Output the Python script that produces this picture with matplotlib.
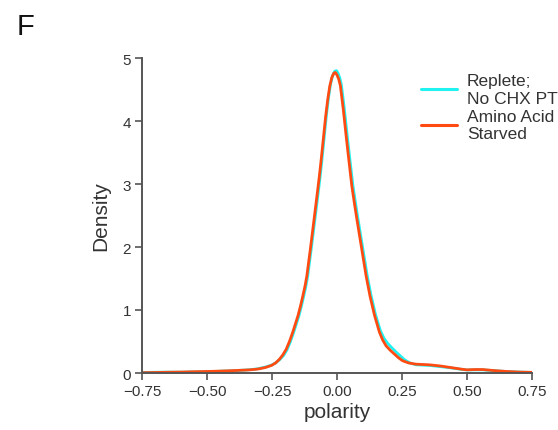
import matplotlib
matplotlib.use("Agg")
import matplotlib.pyplot as plt

# ---- data ----
starved_x = [-0.75, -0.70, -0.65, -0.60, -0.55, -0.50, -0.45, -0.40, -0.36, -0.336, -0.31,
             -0.297, -0.275, -0.252, -0.236, -0.221, -0.208, -0.195, -0.182, -0.170, -0.160,
             -0.150, -0.140, -0.131, -0.123, -0.116, -0.103, -0.090, -0.078, -0.068, -0.060,
             -0.052, -0.044, -0.036, -0.028, -0.020, -0.012, -0.006, 0.000, 0.007, 0.013,
             0.024, 0.035, 0.045, 0.057, 0.066, 0.075, 0.086, 0.099, 0.112, 0.127, 0.144,
             0.163, 0.176, 0.189, 0.205, 0.221, 0.237, 0.252, 0.275, 0.304, 0.355, 0.40,
             0.44, 0.48, 0.50, 0.53, 0.56, 0.60, 0.65, 0.70, 0.75]
starved_y = [0.005, 0.008, 0.012, 0.015, 0.020, 0.024, 0.030, 0.038, 0.045, 0.050, 0.060,
             0.068, 0.088, 0.12, 0.16, 0.22, 0.29, 0.38, 0.51, 0.65, 0.78,
             0.91, 1.07, 1.23, 1.38, 1.54, 1.95, 2.38, 2.78, 3.12, 3.42,
             3.74, 4.06, 4.33, 4.55, 4.69, 4.76, 4.77, 4.73, 4.66, 4.56,
             4.19, 3.77, 3.40, 2.97, 2.72, 2.48, 2.20, 1.87, 1.54, 1.22, 0.92,
             0.65, 0.52, 0.43, 0.36, 0.30, 0.24, 0.195, 0.16, 0.14, 0.13, 0.11,
             0.085, 0.06, 0.05, 0.055, 0.055, 0.04, 0.025, 0.015, 0.01]

replete_x = [-0.75, -0.70, -0.65, -0.60, -0.55, -0.50, -0.45, -0.40, -0.36, -0.336, -0.31,
             -0.297, -0.275, -0.252, -0.236, -0.221, -0.205, -0.192, -0.179, -0.167, -0.157,
             -0.147, -0.137, -0.128, -0.120, -0.113, -0.100, -0.087, -0.075, -0.065, -0.057,
             -0.049, -0.041, -0.033, -0.025, -0.017, -0.009, -0.002, 0.004, 0.011, 0.017,
             0.028, 0.039, 0.049, 0.061, 0.070, 0.079, 0.090, 0.103, 0.116, 0.131, 0.148,
             0.167, 0.181, 0.195, 0.211, 0.228, 0.244, 0.260, 0.280, 0.304, 0.355, 0.40,
             0.44, 0.48, 0.50, 0.53, 0.56, 0.60, 0.65, 0.70, 0.75]
replete_y = [0.008, 0.012, 0.014, 0.013, 0.017, 0.022, 0.028, 0.036, 0.045, 0.052, 0.064,
             0.074, 0.095, 0.125, 0.16, 0.21, 0.28, 0.37, 0.50, 0.64, 0.77,
             0.90, 1.06, 1.22, 1.37, 1.53, 1.94, 2.37, 2.77, 3.11, 3.42,
             3.75, 4.08, 4.36, 4.58, 4.72, 4.79, 4.80, 4.76, 4.68, 4.57,
             4.20, 3.78, 3.41, 2.98, 2.73, 2.49, 2.21, 1.88, 1.55, 1.23, 0.93,
             0.67, 0.55, 0.47, 0.40, 0.33, 0.27, 0.21, 0.16, 0.13, 0.12, 0.10,
             0.08, 0.058, 0.048, 0.05, 0.05, 0.038, 0.024, 0.015, 0.01]

series_labels = ["Replete;\nNo CHX PT", "Amino Acid\nStarved"]
x_ticks = [-0.75, -0.50, -0.25, 0.00, 0.25, 0.50, 0.75]
y_ticks = [0, 1, 2, 3, 4, 5]

plt.rcParams['font.family'] = ['Liberation Sans', 'DejaVu Sans']

fig = plt.figure(figsize=(5.58, 4.31), dpi=100)
ax = fig.add_axes([142/558, 1-374/431, (532-142)/558, (374-59)/431])

cyan = "#1ff2f0"
orange = "#ff4a12"
ax.plot(replete_x, replete_y, color=cyan, lw=2.0, label=series_labels[0],
        solid_capstyle='round', solid_joinstyle='round')
ax.plot(starved_x, starved_y, color=orange, lw=2.0, label=series_labels[1],
        solid_capstyle='round', solid_joinstyle='round')

ax.set_xlim(-0.75, 0.75)
ax.set_ylim(0, 5)
ax.set_xticks(x_ticks)
ax.set_xticklabels([f"{t:.2f}".replace("-", "\u2212") for t in x_ticks])
ax.set_yticks(y_ticks)

for s in ["top", "right"]:
    ax.spines[s].set_visible(False)
for s in ["left", "bottom"]:
    ax.spines[s].set_color("#555555")
    ax.spines[s].set_linewidth(1.4)
ax.tick_params(axis='both', direction='out', length=5, width=1.2, color="#555555",
               labelsize=11, labelcolor="#333333", pad=3)

ax.set_xlabel("polarity", fontsize=15, color="#333333", labelpad=3)
ax.set_ylabel("Density", fontsize=15, color="#333333", labelpad=9)

leg = ax.legend(loc='upper left', bbox_to_anchor=(421/558, 1-74/431), bbox_transform=fig.transFigure,
                frameon=False, fontsize=12.5, handlelength=2.1, handletextpad=0.55,
                borderpad=0, borderaxespad=0, labelspacing=0.17)
for t in leg.get_texts():
    t.set_color("#333333")
    t.set_linespacing(1.22)
for l in leg.get_lines():
    l.set_linewidth(2.2)

fig.text(17/558, 1-35/431, "F", fontsize=21, color="#111111")

fig.savefig("out.png", dpi=100)
